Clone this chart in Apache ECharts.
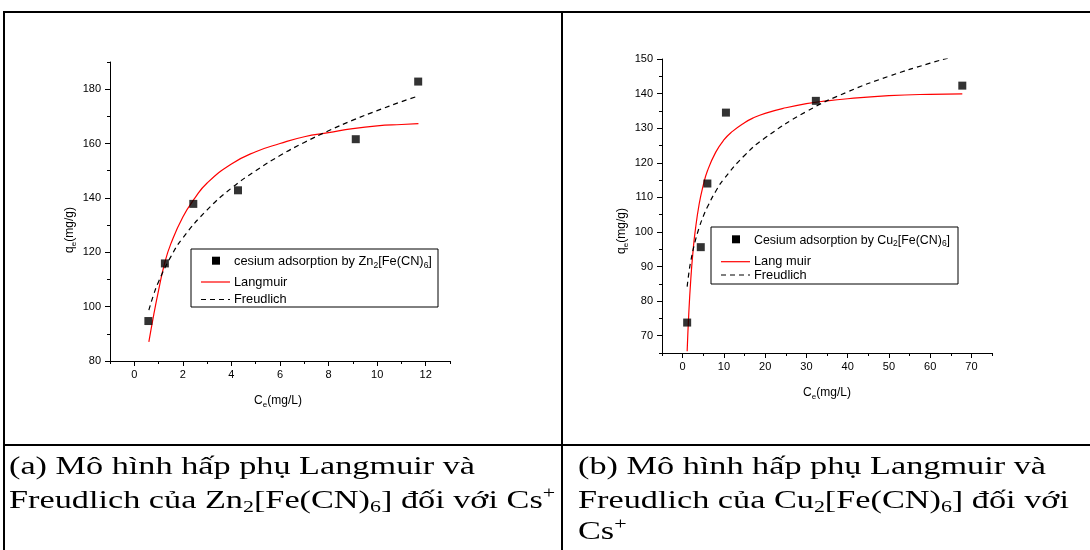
<!DOCTYPE html>
<html>
<head>
<meta charset="utf-8">
<script src="https://cdn.jsdelivr.net/npm/echarts@6.0.0/dist/echarts.min.js"></script>
<style>
  * { margin: 0; padding: 0; }
  body { background: #fff; }
</style>
</head>
<body>
<!--一张图里放两个坐标系 + 表格框线-->
<div id="main" style="width: 1090px; height: 550px"></div>
<script>
// (a) Zn2[Fe(CN)6]
var znPointsC = [0.58, 1.26, 2.43, 4.27, 9.12, 11.69];
var znPointsQ = [94.7, 115.9, 137.8, 142.8, 161.6, 182.8];
var znLangC = [0.6, 0.8, 1.0, 1.25, 1.5, 2, 2.5, 3, 4, 5, 6, 7, 8, 9, 10, 11, 11.7];
var znLangQ = [87, 97, 106, 116, 123, 133, 140, 145.5, 152.5, 157, 160, 162.5, 164, 165.5, 166.5, 167, 167.3];
var znFreuC = [0.6, 0.8, 1, 1.5, 2, 3, 4, 5, 6, 7, 8, 9, 10, 11, 11.7];
var znFreuQ = [98.7, 104.5, 109.2, 118.3, 125.3, 135.6, 143.6, 150, 155.6, 160.4, 164.7, 168.6, 172.1, 175.4, 177.5];
var znXTicks = [0, 2, 4, 6, 8, 10, 12];
var znXMinor = [-1, 1, 3, 5, 7, 9, 11, 13];
var znYTicks = [80, 100, 120, 140, 160, 180];
var znYMinor = [90, 110, 130, 150, 170, 190];

// (b) Cu2[Fe(CN)6]
var cuPointsC = [1.1, 4.4, 6.0, 10.5, 32.3, 67.8];
var cuPointsQ = [73.8, 95.6, 114.0, 134.5, 137.9, 142.3];
var cuLangC = [1.1, 1.5, 2, 2.5, 3, 4, 5, 6, 8, 10, 12, 15, 17, 20, 25, 30, 35, 40, 50, 60, 67.8];
var cuLangQ = [65.5, 76.6, 86.7, 94.1, 99.8, 108, 113.5, 117.6, 123, 126.6, 129, 131.6, 132.9, 134.3, 135.9, 137.1, 137.9, 138.5, 139.4, 139.8, 139.9];
var cuFreuC = [1.1, 1.5, 2, 3, 4, 5, 6, 8, 10, 15, 20, 30, 40, 50, 60, 64.5];
var cuFreuQ = [84.2, 88, 91.7, 97.1, 101.2, 104.5, 107.2, 111.7, 115.3, 122.1, 127.2, 134.8, 140.5, 145, 148.8, 150.3];
var cuXTicks = [0, 10, 20, 30, 40, 50, 60, 70];
var cuXMinor = [-5, 5, 15, 25, 35, 45, 55, 65, 75];
var cuYTicks = [70, 80, 90, 100, 110, 120, 130, 140, 150];
var cuYMinor = [65, 75, 85, 95, 105, 115, 125, 135, 145];

var FONT = "'Liberation Sans', Arial, sans-serif";
var SERIF = "'Liberation Serif', 'Times New Roman', serif";

function pairs(xs, ys) {
  var out = [];
  for (var i = 0; i < xs.length; i++) out.push([xs[i], ys[i]]);
  return out;
}

// 主刻度轴
function mainAxis(grid, pos, min, max, ticks) {
  return {
    type: "value", gridIndex: grid, position: pos, min: min, max: max,
    axisLine: { show: true, onZero: false, lineStyle: { color: "#000", width: 1 } },
    axisTick: { show: true, customValues: ticks, length: 5, lineStyle: { color: "#000" } },
    axisLabel: { customValues: ticks, color: "#000", fontSize: 11, fontFamily: FONT, margin: pos === "bottom" ? 8 : 9 },
    splitLine: { show: false }
  };
}
// 次刻度轴（只画短刻度）
function minorAxis(grid, pos, min, max, ticks) {
  return {
    type: "value", gridIndex: grid, position: pos, min: min, max: max,
    axisLine: { show: false, onZero: false },
    axisTick: { show: true, customValues: ticks, length: 3, lineStyle: { color: "#000" } },
    axisLabel: { show: false },
    splitLine: { show: false }
  };
}

var subRich = {
  t: { fontSize: 12, fontFamily: FONT, color: "#000", lineHeight: 16 },
  s: { fontSize: 8, fontFamily: FONT, color: "#000", lineHeight: 8, verticalAlign: "bottom" },
  b: { fontSize: 12.8, fontFamily: FONT, color: "#2e2e96", lineHeight: 16 },
  bs: { fontSize: 8.5, fontFamily: FONT, color: "#2e2e96", lineHeight: 8, verticalAlign: "bottom" },
  c: { fontSize: 12.4, fontFamily: FONT, color: "#2e2e96", lineHeight: 16 },
  l: { fontSize: 12.8, fontFamily: FONT, color: "#000", lineHeight: 14 }
};

var capRich = {
  t: { fontSize: 25, fontFamily: SERIF, color: "#000", lineHeight: 30 },
  s: { fontSize: 16, fontFamily: SERIF, color: "#000", lineHeight: 14, verticalAlign: "bottom" },
  p: { fontSize: 16, fontFamily: SERIF, color: "#000", lineHeight: 14, verticalAlign: "top" }
};

function txt(x, y, text, rich, rot, align) {
  return {
    type: "text", x: x, y: y, rotation: rot || 0,
    style: { text: text, rich: rich, align: align || "center", verticalAlign: "middle" }
  };
}
// 图注文字横向拉宽
function caption(x, y, text) {
  var el = txt(x, y, text, capRich, 0, "left");
  el.scaleX = 1.37;
  return el;
}
function hline(x1, x2, y, w, color, dash) {
  return { type: "line", shape: { x1: x1, y1: y, x2: x2, y2: y },
    style: { stroke: color || "#000", lineWidth: w || 1, lineDash: dash || null } };
}
function vline(x, y1, y2, w) {
  return { type: "line", shape: { x1: x, y1: y1, x2: x, y2: y2 }, style: { stroke: "#000", lineWidth: w } };
}
function legendBox(x, y, w, h, rows, label1, name2) {
  return [
    { type: "rect", shape: { x: x, y: y, width: w, height: h }, style: { fill: "#fff", stroke: "#000", lineWidth: 1 } },
    { type: "rect", shape: { x: x + 21, y: rows[0] - 4, width: 8, height: 8 }, style: { fill: "#000" } },
    txt(x + 43, rows[0] + 1, label1, subRich, 0, "left"),
    hline(x + 10, x + 39, rows[1], 1.2, "#ff0000"),
    txt(x + 43, rows[1], "{l|" + name2 + "}", subRich, 0, "left"),
    hline(x + 10, x + 39, rows[2], 1.2, "#000", [5, 4]),
    txt(x + 43, rows[2], "{l|Freudlich}", subRich, 0, "left")
  ];
}

var chart = echarts.init(document.getElementById("main"));

var graphics = [
  // 表格框线
  hline(4, 1090, 12, 2), hline(4, 1090, 445, 2),
  vline(4, 11, 550, 2), vline(562, 11, 550, 2),
  // 坐标轴标题
  txt(70, 230, "{t|q}{s|e}{t|(mg/g)}", subRich, Math.PI / 2),
  txt(278, 401, "{t|C}{s|e}{t|(mg/L)}", subRich),
  txt(622, 231, "{t|q}{s|e}{t|(mg/g)}", subRich, Math.PI / 2),
  txt(827, 393, "{t|C}{s|e}{t|(mg/L)}", subRich),
  // 图注
  caption(9, 467, "{t|(a) Mô hình hấp phụ Langmuir và}"),
  caption(9, 501, "{t|Freudlich của Zn}{s|2}{t|[Fe(CN)}{s|6}{t|] đối với Cs}{p|+}"),
  caption(578, 467, "{t|(b) Mô hình hấp phụ Langmuir và}"),
  caption(578, 501, "{t|Freudlich của Cu}{s|2}{t|[Fe(CN)}{s|6}{t|] đối với}"),
  caption(578, 532, "{t|Cs}{p|+}")
]
  .concat(legendBox(191, 249, 247, 58, [260.7, 282, 299.5],
    "{b|cesium adsorption by Zn}{bs|2}{b|[Fe(CN)}{bs|6}{b|]}", "Langmuir"))
  .concat(legendBox(711, 227, 247, 57, [239.3, 261.7, 275],
    "{c|Cesium adsorption by Cu}{bs|2}{c|[Fe(CN)}{bs|6}{c|]}", "Lang muir"));

var lineCommon = { type: "line", showSymbol: false, smooth: 0.5, z: 3 };

chart.setOption({
  animation: false,
  grid: [
    { left: 110, top: 62, width: 340, height: 299, show: false },
    { left: 662, top: 59, width: 330, height: 294, show: false }
  ],
  xAxis: [
    mainAxis(0, "bottom", -1, 13, znXTicks),
    minorAxis(0, "bottom", -1, 13, znXMinor),
    mainAxis(1, "bottom", -5, 75, cuXTicks),
    minorAxis(1, "bottom", -5, 75, cuXMinor)
  ],
  yAxis: [
    mainAxis(0, "left", 80, 190, znYTicks),
    minorAxis(0, "left", 80, 190, znYMinor),
    mainAxis(1, "left", 65, 150, cuYTicks),
    minorAxis(1, "left", 65, 150, cuYMinor)
  ],
  series: [
    Object.assign({}, lineCommon, {
      xAxisIndex: 0, yAxisIndex: 0, data: pairs(znLangC, znLangQ),
      lineStyle: { color: "#ff0000", width: 1.2 }
    }),
    Object.assign({}, lineCommon, {
      xAxisIndex: 0, yAxisIndex: 0, data: pairs(znFreuC, znFreuQ),
      lineStyle: { color: "#000", width: 1.2, type: [5, 4] }
    }),
    {
      type: "scatter", xAxisIndex: 0, yAxisIndex: 0, data: pairs(znPointsC, znPointsQ),
      symbol: "rect", symbolSize: 8, itemStyle: { color: "#000" }, z: 4
    },
    Object.assign({}, lineCommon, {
      xAxisIndex: 2, yAxisIndex: 2, data: pairs(cuLangC, cuLangQ),
      lineStyle: { color: "#ff0000", width: 1.2 }
    }),
    Object.assign({}, lineCommon, {
      xAxisIndex: 2, yAxisIndex: 2, data: pairs(cuFreuC, cuFreuQ),
      lineStyle: { color: "#000", width: 1.2, type: [5, 4] }
    }),
    {
      type: "scatter", xAxisIndex: 2, yAxisIndex: 2, data: pairs(cuPointsC, cuPointsQ),
      symbol: "rect", symbolSize: 8, itemStyle: { color: "#000" }, z: 4
    }
  ],
  graphic: graphics
});
</script>
</body>
</html>
